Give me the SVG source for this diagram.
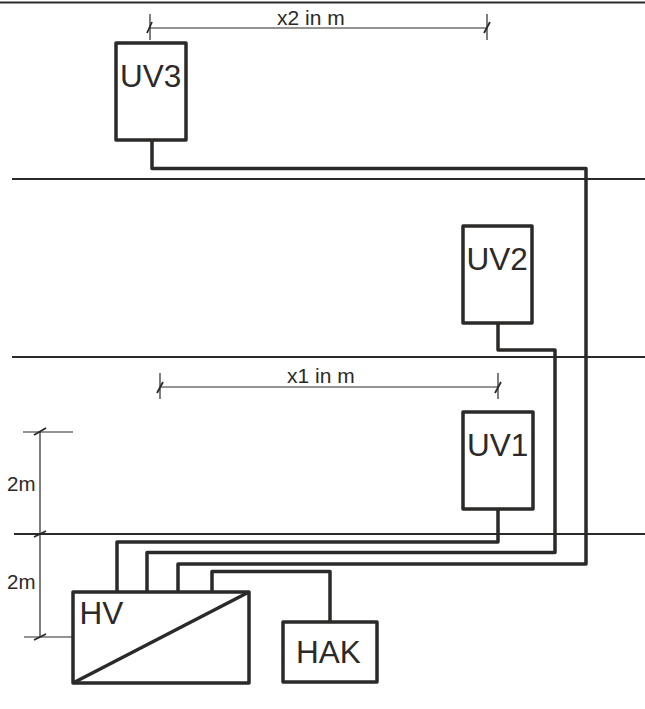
<svg xmlns="http://www.w3.org/2000/svg" width="645" height="709" viewBox="0 0 645 709">
<style>
.n{fill:#fff;stroke:#2b2a29;stroke-width:3.500;stroke-linejoin:round}
.w{fill:none;stroke:#2b2a29;stroke-width:3.500;stroke-linejoin:round}
.f{fill:none;stroke:#2b2a29;stroke-width:2.200}
.d{fill:none;stroke:#2b2a29;stroke-width:1.200}
.k{fill:none;stroke:#2b2a29;stroke-width:1.800}
text{font-family:"Liberation Sans",Arial,sans-serif;fill:#2b2a29}
.b{font-size:31.500px}
.s{font-size:21px}
.m{font-size:20.500px}
</style>
<g id="floors">
<path class="f" d="M0 2.500H645M12 179H645M12 357H645M14 534H645"/>
</g>
<g id="connectors">
<path class="w" d="M152 140V168.500H586V564H178V592"/>
<path class="w" d="M498 323V350H555V552.500H147V592"/>
<path class="w" d="M498 509V542H117V592"/>
<path class="w" d="M330 622V571.500H212V592"/>
</g>
<g id="dimensions">
<path class="d" d="M150 14V40M487 14V40M150 28H487M160 373V399M498 373V399M160 387H498M40 432V637M23 432H73M24 637H73"/>
<path class="k" d="M147 33L152 22M484 33L490 22M157 393L163 382M495 393L501 382M34 435L46 428M34 537L46 531M34 640L46 634"/>
<text class="s" x="277" y="24.500">x2 in m</text>
<text class="s" x="287" y="383">x1 in m</text>
<text class="m" x="7" y="491">2m</text>
<text class="m" x="7" y="589">2m</text>
</g>
<g id="UV3">
<rect class="n" x="116" y="43" width="70" height="97"/>
<text class="b" x="120" y="87">UV3</text>
</g>
<g id="UV2">
<rect class="n" x="463" y="226" width="69" height="97"/>
<text class="b" x="466.500" y="269.500">UV2</text>
</g>
<g id="UV1">
<rect class="n" x="463" y="412" width="70" height="97"/>
<text class="b" x="467" y="456">UV1</text>
</g>
<g id="HV">
<rect class="n" x="73" y="592" width="176" height="91"/>
<path class="w" d="M73 683L249 592"/>
<text class="b" x="79.500" y="624">HV</text>
</g>
<g id="HAK">
<rect class="n" x="283" y="622" width="94" height="60"/>
<text class="b" x="296" y="663">HAK</text>
</g>
</svg>
